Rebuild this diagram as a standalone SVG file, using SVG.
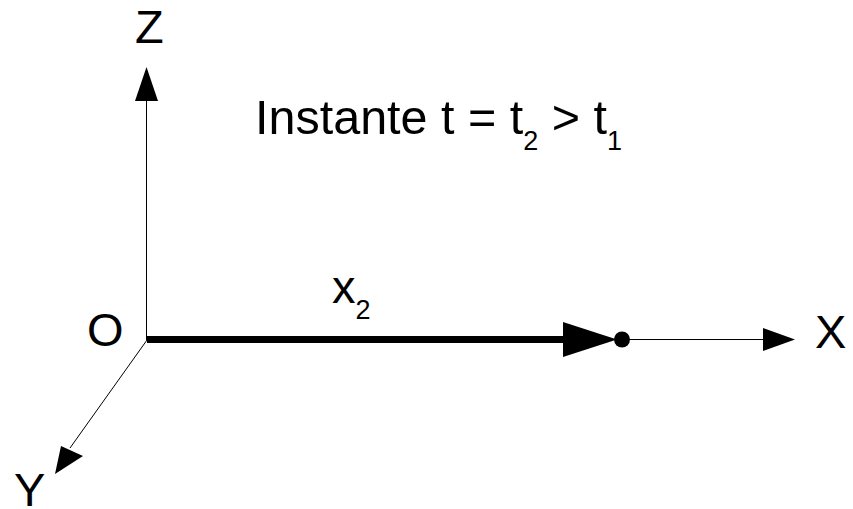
<svg xmlns="http://www.w3.org/2000/svg" width="853" height="509" viewBox="0 0 853 509">
<style>
text{font-family:"Liberation Sans",Arial,sans-serif;font-size:47px;fill:#000}
.sub{font-size:27px}
.title{font-size:48.5px}
.thin{stroke:#000;stroke-width:1;fill:none}
.thick{stroke:#000;stroke-width:7;fill:none}
.head{fill:#000;stroke:none}
</style>
<rect width="853" height="509" fill="#fff"/>
<g id="connectors">
<line class="thin" x1="146.5" y1="340" x2="146.5" y2="98"/>
<polygon class="head" points="146.5,67 135,101 158,101"/>
<line class="thick" x1="147" y1="339.5" x2="566" y2="339.5"/>
<polygon class="head" points="617,339.5 563,322 563,357"/>
<line class="thin" x1="622" y1="339.5" x2="766" y2="339.5"/>
<polygon class="head" points="795,339.5 763,328 763,351"/>
<line class="thin" x1="147" y1="340" x2="70" y2="448"/>
<polygon class="head" points="55,474 61,446 83,456"/>
</g>
<g id="point"><circle cx="622" cy="339.5" r="8" fill="#000"/></g>
<g id="label-Z"><text x="135" y="43">Z</text></g>
<g id="label-O"><text x="87" y="346">O</text></g>
<g id="label-X"><text x="815" y="348">X</text></g>
<g id="label-Y"><text x="14" y="506">Y</text></g>
<g id="label-x2"><text x="332" y="303">x<tspan class="sub" dy="16">2</tspan></text></g>
<g id="title"><text class="title" x="255" y="134">Instante t = t<tspan class="sub" dy="16">2</tspan><tspan dy="-16"> &gt; t</tspan><tspan class="sub" dy="16">1</tspan></text></g>
</svg>
